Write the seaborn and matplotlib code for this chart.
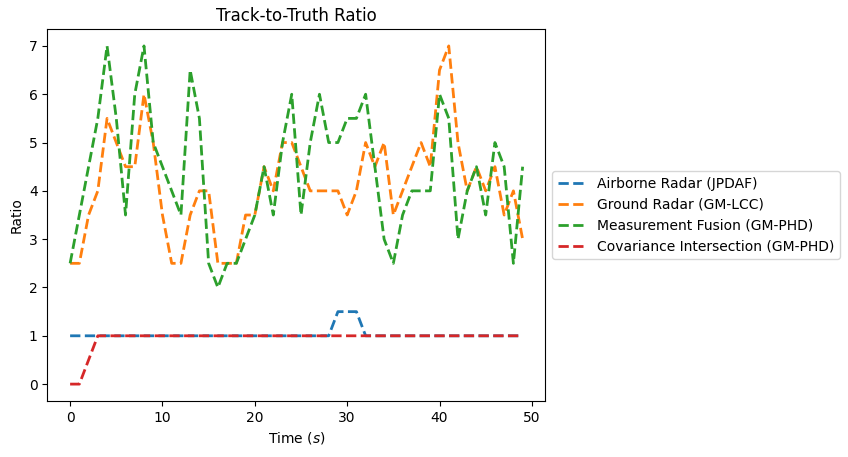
import numpy as np
import pandas as pd
import matplotlib
matplotlib.use('Agg')
import matplotlib.pyplot as plt
import seaborn as sns

# time steps
time = np.arange(50)

# track-to-truth ratio per method
airborne = [1.0] * 29 + [1.5, 1.5, 1.5] + [1.0] * 18
ground = [2.5, 2.5, 3.5, 4, 5.5, 5, 4.5, 4.5, 6, 5,
          3.5, 2.5, 2.5, 3.5, 4, 4, 2.5, 2.5, 2.5, 3.5,
          3.5, 4.5, 4, 5, 5, 4.5, 4, 4, 4, 4,
          3.5, 4, 5, 4.5, 5, 3.5, 4, 4.5, 5, 4.5,
          6.5, 7, 5, 4, 4.5, 4, 4.5, 3.5, 4, 3]
fusion = [2.5, 3.5, 4.5, 5.5, 7, 5.5, 3.5, 6, 7, 5,
          4.5, 4, 3.5, 6.5, 5.5, 2.5, 2, 2.5, 2.5, 3,
          3.5, 4.5, 3.5, 5, 6, 3.5, 5, 6, 5, 5,
          5.5, 5.5, 6, 4.5, 3, 2.5, 3.5, 4, 4, 4,
          6, 5.5, 3, 4, 4.5, 3.5, 5, 4.5, 2.5, 4.5]
covint = [0, 0, 0.5] + [1.0] * 47

labels = ['Airborne Radar (JPDAF)', 'Ground Radar (GM-LCC)',
          'Measurement Fusion (GM-PHD)', 'Covariance Intersection (GM-PHD)']
series = [airborne, ground, fusion, covint]
colors = ['#1f77b4', '#ff7f0e', '#2ca02c', '#d62728']

fig, ax = plt.subplots(figsize=(8.48, 4.57), dpi=100)
fig.subplots_adjust(left=0.056, right=0.643, top=0.9365, bottom=0.1225)

for lab, vals, c in zip(labels, series, colors):
    sns.lineplot(x=time, y=vals, ax=ax, label=lab, color=c,
                 linestyle='--', linewidth=2)

ax.set_title('Track-to-Truth Ratio')
ax.set_xlabel('Time ($s$)')
ax.set_ylabel('Ratio')
ax.legend(loc='center left', bbox_to_anchor=(1, 0.5))

plt.savefig('out.png', dpi=100)
